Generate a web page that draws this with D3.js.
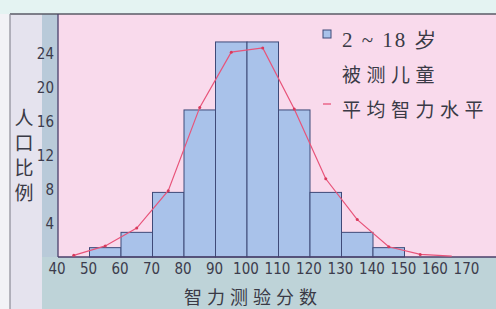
<!DOCTYPE html>
<html>
<head>
<meta charset="UTF-8" />
<script src="https://d3js.org/d3.v7.min.js"></script>
<style>
  body { margin: 0; background: #f2f2f6; }
  svg { display: block; }
</style>
</head>
<body>
<svg id="chart"></svg>
<script>
// histogram: 10-point bins of IQ score, % of children
const binStarts = [50, 60, 70, 80, 90, 100, 110, 120, 130, 140];
const binPercent = [1.1, 2.9, 7.6, 17.3, 25.3, 25.3, 17.3, 7.6, 2.9, 1.1];
// mean intelligence curve
const curveX = [45, 55, 65, 75, 85, 95, 105, 115, 125, 135, 145, 155, 165];
const curveY = [0.2, 1.3, 3.4, 7.8, 17.6, 24.1, 24.6, 17.4, 9.2, 4.4, 1.2, 0.3, 0.1];
const xTicks = [40, 50, 60, 70, 80, 90, 100, 110, 120, 130, 140, 150, 160, 170];
const yTicks = [4, 8, 12, 16, 20, 24];
const yTitle = ['人', '口', '比', '例'];
const xTitle = '智力测验分数';
const legendLabels = ['2 ~ 18 岁', '被测儿童', '平均智力水平'];

const width = 496, height = 309;
const plotLeft = 58, plotTop = 14, baseY = 257;

const svg = d3.select('#chart').attr('width', width).attr('height', height);

const x = d3.scaleLinear().domain([40, 50]).range([plotLeft, plotLeft + 31.5]);
const y = d3.scaleLinear().domain([0, 24]).range([baseY, baseY - 204]);

// background pieces
svg.append('rect').attr('x', 0).attr('y', 0).attr('width', width).attr('height', plotTop).attr('fill', '#e4f3f2');
svg.append('rect').attr('x', 10).attr('y', plotTop).attr('width', 32).attr('height', height - plotTop).attr('fill', '#e5e3ee');
svg.append('rect').attr('x', 42).attr('y', plotTop).attr('width', 16).attr('height', baseY - plotTop).attr('fill', '#b9cad9');
svg.append('rect').attr('x', 42).attr('y', baseY).attr('width', width - 42).attr('height', height - baseY).attr('fill', '#bed3d8');
svg.append('rect').attr('x', plotLeft).attr('y', plotTop).attr('width', width - plotLeft).attr('height', baseY - plotTop).attr('fill', '#f9daec');

// outer frame
svg.append('line').attr('x1', 10).attr('x2', width).attr('y1', plotTop).attr('y2', plotTop).attr('stroke', '#5a5a66').attr('stroke-width', 1.5);
svg.append('line').attr('x1', 10).attr('x2', 10).attr('y1', plotTop).attr('y2', height).attr('stroke', '#8a8a96').attr('stroke-width', 1.2);

// bars
svg.append('g').selectAll('rect')
  .data(binStarts)
  .join('rect')
  .attr('x', d => x(d))
  .attr('y', (d, i) => y(binPercent[i]))
  .attr('width', d => x(d + 10) - x(d))
  .attr('height', (d, i) => baseY - y(binPercent[i]))
  .attr('fill', '#a9c2ea')
  .attr('stroke', '#3f4a78')
  .attr('stroke-width', 1);

// axes lines
svg.append('line').attr('x1', plotLeft).attr('x2', plotLeft).attr('y1', plotTop).attr('y2', baseY).attr('stroke', '#4a3f6a').attr('stroke-width', 1.3);
svg.append('line').attr('x1', plotLeft).attr('x2', width).attr('y1', baseY).attr('y2', baseY).attr('stroke', '#4a3f6a').attr('stroke-width', 1.3);

// curve
const pts = curveX.map((d, i) => [d, curveY[i]]);
const line = d3.line().x(d => x(d[0])).y(d => y(d[1]));
svg.append('path').datum(pts).attr('d', line).attr('fill', 'none').attr('stroke', '#e8547a').attr('stroke-width', 1.2);
svg.append('g').selectAll('circle').data(pts.slice(0, -1)).join('circle')
  .attr('cx', d => x(d[0])).attr('cy', d => y(d[1])).attr('r', 1.5).attr('fill', '#d83a5c');

// tick labels
const numFont = '"DejaVu Sans Condensed", "Liberation Sans Narrow", sans-serif';
svg.append('g').selectAll('text').data(xTicks).join('text')
  .attr('x', d => x(d) - 1).attr('y', 274)
  .attr('text-anchor', 'middle')
  .attr('font-family', numFont).attr('font-size', 15)
  .attr('fill', '#3c3c4c')
  .text(d => d);
svg.append('g').selectAll('text').data(yTicks).join('text')
  .attr('x', 54).attr('y', d => y(d) + 6)
  .attr('text-anchor', 'end')
  .attr('font-family', numFont).attr('font-size', 15)
  .attr('fill', '#3c3c4c')
  .text(d => d);

// titles
const cjk = '"Noto Sans CJK SC", sans-serif';
svg.append('g').selectAll('text').data(yTitle).join('text')
  .attr('x', 24).attr('y', (d, i) => 125 + i * 25)
  .attr('text-anchor', 'middle')
  .attr('font-family', cjk).attr('font-size', 19)
  .attr('fill', '#3a3a46')
  .text(d => d);
svg.append('text')
  .attr('x', 253).attr('y', 304)
  .attr('text-anchor', 'middle')
  .attr('font-family', cjk).attr('font-size', 18)
  .attr('letter-spacing', 5)
  .attr('fill', '#3a3a46')
  .text(xTitle);

// legend
const lg = svg.append('g');
lg.append('rect').attr('x', 323).attr('y', 30).attr('width', 8).attr('height', 8)
  .attr('fill', '#a9c2ea').attr('stroke', '#3f4a78').attr('stroke-width', 1);
lg.append('line').attr('x1', 323).attr('x2', 331).attr('y1', 104).attr('y2', 104)
  .attr('stroke', '#e8547a').attr('stroke-width', 1.3);
lg.selectAll('text.lbl').data(legendLabels).join('text')
  .attr('class', 'lbl')
  .attr('x', 342).attr('y', (d, i) => [47, 82, 117][i])
  .attr('font-family', (d, i) => i === 0 ? '"Liberation Serif", serif' : cjk)
  .attr('font-size', (d, i) => i === 0 ? 21 : 19)
  .attr('letter-spacing', (d, i) => i === 0 ? 2 : 5.5)
  .attr('fill', '#3a3a46')
  .style('white-space', 'pre')
  .text(d => d);
</script>
</body>
</html>
